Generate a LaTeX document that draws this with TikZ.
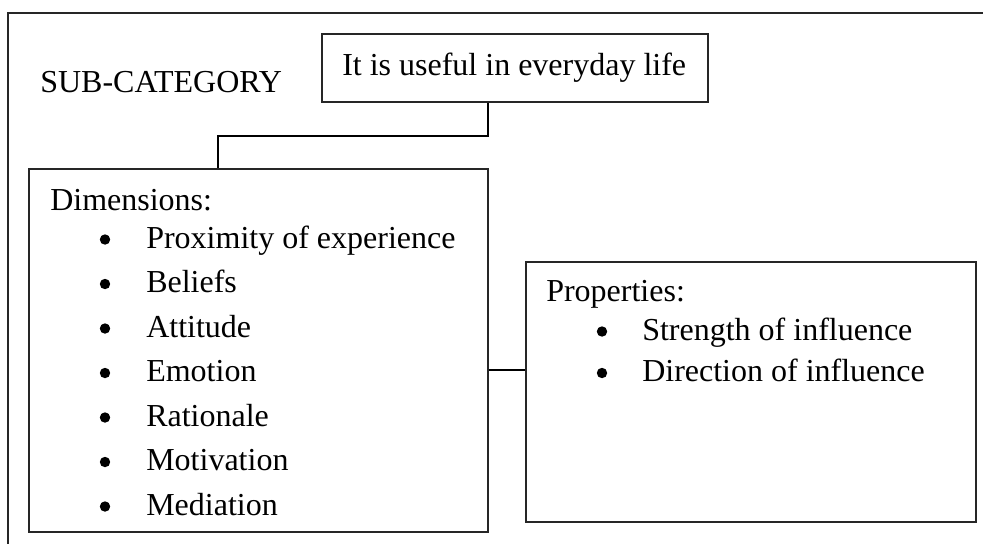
\documentclass[tikz,border=0pt]{standalone}
\usepackage{fontspec}
\setmainfont{Liberation Serif}
\begin{document}
\begin{tikzpicture}[x=0.75pt,y=-0.75pt,
  box/.style={draw=black!85, line width=0.9pt, inner sep=0pt, fill=none},
  link/.style={draw=black, line width=1.1pt},
  frame/.style={draw=black!85, line width=1.4pt},
  txt/.style={anchor=base west, inner sep=0pt, font=\fontsize{24}{28}\selectfont},
  bul/.style={circle, fill=black, inner sep=0pt, minimum size=7.8pt}]
\useasboundingbox (0,0) rectangle (983,544);

% open outer frame (top and left edges only)
\coordinate (ftr) at (983,13);
\coordinate (ftl) at (8,13);
\coordinate (fbl) at (8,544);
\draw[frame] (ftr) -- (ftl) -- (fbl);

% heading
\node[txt] (sub) at (40,92) {SUB-CATEGORY};

% top box
\node[box, minimum width=289.5pt, minimum height=51pt] (top) at (515,68) {};
\node[txt] (toptxt) at (342,75) {It is useful in everyday life};

% dimensions box
\node[box, minimum width=344.25pt, minimum height=272.25pt] (dim) at (258.5,350.5) {};
\node[txt] (dimhead) at (50,210) {Dimensions:};
\foreach \name/\yy/\label in {d1/248/Proximity of experience, d2/292.5/Beliefs, d3/337/Attitude, d4/381.5/Emotion, d5/426/Rationale, d6/470.5/Motivation, d7/515/Mediation}{
  \node[bul] (\name b) at (105,\yy-8.5) {};
  \node[txt] (\name) at (146,\yy) {\label};
}

% properties box
\node[box, minimum width=337.5pt, minimum height=195pt] (prop) at (751,392) {};
\node[txt] (prophead) at (546,301.5) {Properties:};
\foreach \name/\yy/\label in {p1/340/Strength of influence, p2/381.5/Direction of influence}{
  \node[bul] (\name b) at (602,\yy-8.5) {};
  \node[txt] (\name) at (642,\yy) {\label};
}

% connectors
\coordinate (drop) at (488,136);
\coordinate (elbow) at (218,136);
\draw[link] (top.south -| drop) -- (drop) -- (elbow) -- (elbow |- dim.north);
\coordinate (mid) at (0,370);
\draw[link] (dim.east |- mid) -- (prop.west |- mid);
\end{tikzpicture}
\end{document}
